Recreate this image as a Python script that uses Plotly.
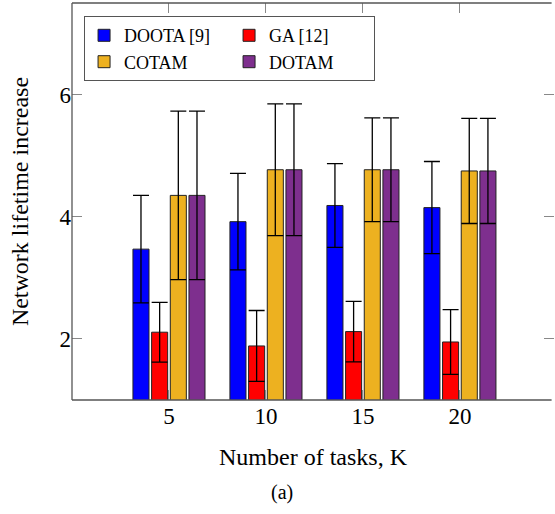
import plotly.graph_objects as go

tasks = [5, 10, 15, 20]
series_names = ["DOOTA [9]", "GA [12]", "COTAM", "DOTAM"]
doota = [3.47, 3.92, 4.185, 4.15]
doota_err = [0.88, 0.79, 0.685, 0.755]
ga = [2.11, 1.885, 2.12, 1.95]
ga_err = [0.49, 0.58, 0.495, 0.53]
cotam = [4.35, 4.77, 4.77, 4.75]
cotam_err = [1.38, 1.08, 0.85, 0.86]
dotam = [4.35, 4.77, 4.77, 4.75]
dotam_err = [1.38, 1.08, 0.85, 0.86]
y_ticks = [2, 4, 6]
colors = ["#0000FF", "#FF0000", "#EDB120", "#7E2F8E"]
legend_cols = ["c1", "c2", "c1", "c2"]

FONT = "Liberation Serif"
FRAME = "#555555"
TICK = "#888888"

fig = go.Figure()
for name, vals, errs, col, grp in zip(series_names,
                                      [doota, ga, cotam, dotam],
                                      [doota_err, ga_err, cotam_err, dotam_err],
                                      colors, legend_cols):
    fig.add_trace(go.Bar(
        x=tasks, y=vals, name=name, legendgroup=grp,
        marker=dict(color=col, line=dict(color="#222222", width=1)),
        error_y=dict(type="data", array=errs, visible=True,
                     color="#000000", thickness=1.3, width=8),
    ))

fig.update_layout(
    width=555, height=514, autosize=False,
    margin=dict(l=72, r=1, t=3, b=114),
    paper_bgcolor="white", plot_bgcolor="white",
    barmode="group", bargap=0.23, bargroupgap=0.14,
    font=dict(family=FONT, color="#000000"),
    showlegend=True,
    legend=dict(
        orientation="h", x=0.025, y=0.967, xanchor="left", yanchor="top",
        bordercolor=FRAME, borderwidth=1, bgcolor="white",
        font=dict(family=FONT, size=18), entrywidth=100,
        traceorder="grouped", tracegroupgap=0,
    ),
    xaxis=dict(
        range=[0, 24.85], tickvals=tasks, ticktext=[str(t) for t in tasks],
        ticks="inside", ticklen=10, tickcolor=TICK, tickwidth=1.3,
        showline=False, mirror="ticks",
        showgrid=False, zeroline=False,
        tickfont=dict(family=FONT, size=23),
        title=dict(text="Number of tasks, K", font=dict(family=FONT, size=24), standoff=20),
    ),
    yaxis=dict(
        range=[1, 7.5], tickvals=y_ticks,
        ticks="inside", ticklen=10, tickcolor=TICK, tickwidth=1.3,
        showline=False, mirror=False,
        showgrid=False, zeroline=False,
        tickfont=dict(family=FONT, size=23),
        title=dict(text="Network lifetime increase", font=dict(family=FONT, size=24), standoff=24),
    ),
    yaxis2=dict(
        overlaying="y", side="right", matches="y", tickvals=y_ticks,
        ticks="inside", ticklen=10, tickcolor=TICK, tickwidth=1.3,
        showticklabels=False, showline=False, showgrid=False, zeroline=False,
    ),
    shapes=[
        dict(type="line", xref="paper", yref="paper", x0=0, x1=0, y0=0, y1=1,
             line=dict(color=FRAME, width=1.3), layer="above"),
        dict(type="line", xref="paper", yref="paper", x0=0, x1=0.995, y0=0, y1=0,
             line=dict(color=FRAME, width=1.3), layer="above"),
        dict(type="line", xref="paper", yref="paper", x0=0, x1=0.995, y0=1, y1=1,
             line=dict(color=FRAME, width=1.3), layer="above"),
    ],
    annotations=[dict(text="(a)", xref="paper", yref="paper", x=0.435, y=-0.232,
                      xanchor="center", yanchor="middle", showarrow=False,
                      font=dict(family=FONT, size=20))],
)
fig.add_trace(go.Scatter(x=[tasks[0]], y=[y_ticks[0]], yaxis="y2", mode="markers",
                         marker=dict(opacity=0), showlegend=False, hoverinfo="skip"))

fig.write_html("out.html")
